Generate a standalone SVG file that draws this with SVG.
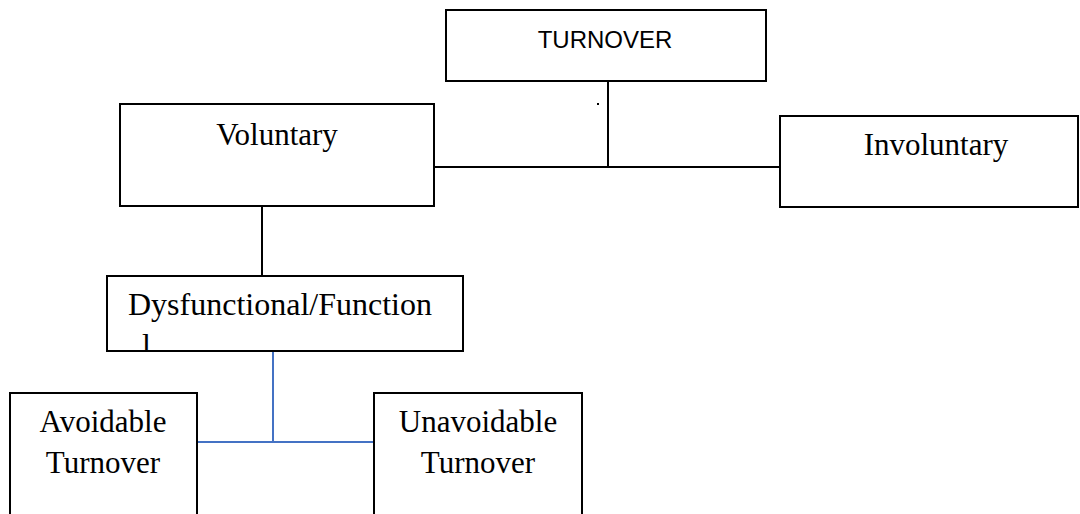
<svg xmlns="http://www.w3.org/2000/svg" width="1080" height="514" viewBox="0 0 1080 514">
  <style>
    .box { fill: #ffffff; stroke: #000000; stroke-width: 2; }
    .conn { fill: none; stroke: #000000; stroke-width: 2; }
    .blue { fill: none; stroke: #4472C4; stroke-width: 2; }
    .serif { font-family: "Liberation Serif", "Times New Roman", serif; font-size: 31px; fill: #000000; }
    .sans { font-family: "Liberation Sans", Arial, sans-serif; font-size: 24px; fill: #000000; }
  </style>
  <defs>
    <clipPath id="dysClip">
      <rect x="108" y="277" width="355" height="73"/>
    </clipPath>
  </defs>
  <rect width="1080" height="514" fill="#ffffff"/>
  <g id="connectors">
    <line class="conn" x1="608" y1="81" x2="608" y2="167"/>
    <line class="conn" x1="434" y1="167" x2="780" y2="167"/>
    <line class="conn" x1="262" y1="206" x2="262" y2="276"/>
    <line class="blue" x1="273" y1="351" x2="273" y2="442"/>
    <line class="blue" x1="197" y1="442" x2="374" y2="442"/>
    <rect x="597" y="103" width="2" height="2" fill="#000000"/>
  </g>
  <g id="turnover">
    <rect class="box" x="446" y="10" width="320" height="71"/>
    <text class="sans" x="605" y="48" text-anchor="middle">TURNOVER</text>
  </g>
  <g id="voluntary">
    <rect class="box" x="120" y="104" width="314" height="102"/>
    <text class="serif" x="277" y="145" text-anchor="middle">Voluntary</text>
  </g>
  <g id="involuntary">
    <rect class="box" x="780" y="116" width="298" height="91"/>
    <text class="serif" x="936" y="155" text-anchor="middle">Involuntary</text>
  </g>
  <g id="dysfunctional">
    <rect class="box" x="107" y="276" width="356" height="75"/>
    <g clip-path="url(#dysClip)">
      <text class="serif" x="128" y="315" style="font-size:32px">Dysfunctional/Function</text>
      <text class="serif" x="142" y="356" style="font-size:32px">l</text>
    </g>
  </g>
  <g id="avoidable">
    <rect class="box" x="10" y="393" width="187" height="130"/>
    <text class="serif" x="103" y="432" text-anchor="middle">Avoidable</text>
    <text class="serif" x="103" y="473" text-anchor="middle">Turnover</text>
  </g>
  <g id="unavoidable">
    <rect class="box" x="374" y="393" width="208" height="130"/>
    <text class="serif" x="478" y="432" text-anchor="middle">Unavoidable</text>
    <text class="serif" x="478" y="473" text-anchor="middle">Turnover</text>
  </g>
</svg>
